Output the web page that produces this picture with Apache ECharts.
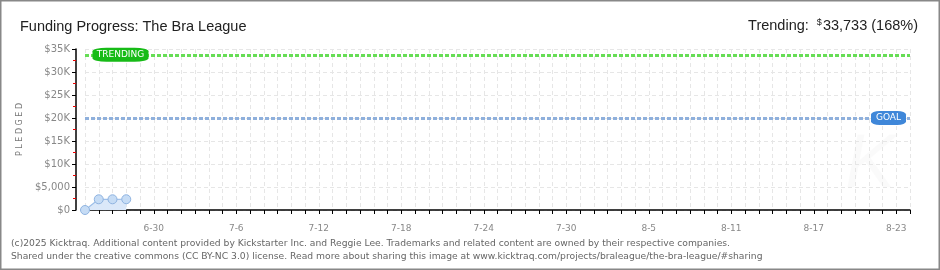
<!DOCTYPE html>
<html>
<head>
<meta charset="utf-8">
<script src="https://cdn.jsdelivr.net/npm/echarts@6/dist/echarts.min.js"></script>
<style>
html, body { margin: 0; padding: 0; background: #fff; }
#chart { width: 940px; height: 270px; }
</style>
</head>
<body>
<div id="chart"></div>
<script>
// days shown on the x axis (6-25 .. 8-24)
var startMonth = 6, startDay = 25, dayCount = 61;
var dates = [];
(function () {
	var m = startMonth, d = startDay;
	var monthLen = { 6: 30, 7: 31, 8: 31 };
	for (var i = 0; i < dayCount; i++) {
		dates.push(m + '-' + d);
		d++;
		if (d > monthLen[m]) { d = 1; m++; }
	}
})();

// pledged totals for the first days (6-25 .. 6-28)
var pledgedValues = [0, 2330, 2330, 2340];
var trendingValue = 33733;
var goalValue = 20000;
var trendingPct = 168;

function yLabel(v) {
	if (v == 0) return '$0';
	if (v < 10000) return '$' + v.toLocaleString('en-US');
	return '$' + (v / 1000) + 'K';
}

var chart = echarts.init(document.getElementById('chart'));
var option = {
	animation: false,
	title: [{
		text: 'Funding Progress: The Bra League',
		left: 15, top: 14,
		textStyle: { fontFamily: 'Liberation Sans', fontSize: 14.5, fontWeight: 'normal', color: '#222' }
	}, {
		text: '{a|Trending:  }{s|$}{a|' + trendingValue.toLocaleString('en-US') + ' (' + trendingPct + '%)}',
		right: 17, top: 13,
		textStyle: {
			fontWeight: 'normal',
			rich: {
				a: { fontFamily: 'Liberation Sans', fontSize: 14.5, fontWeight: 'normal', color: '#222' },
				s: { fontFamily: 'Liberation Sans', fontSize: 9, fontWeight: 'normal', color: '#222', verticalAlign: 'top', padding: [0, 1, 6, 0] }
			}
		}
	}],
	grid: { left: 85, right: 30, top: 49, bottom: 60 },
	xAxis: {
		type: 'category',
		data: dates,
		boundaryGap: false,
		offset: 10,
		axisLine: { lineStyle: { color: '#000', width: 1.5 } },
		axisTick: { interval: 0, length: 4, lineStyle: { color: '#000' } },
		axisLabel: {
			interval: function (i) { return (i - 5) % 6 === 0 && i >= 5; },
			margin: 4, fontFamily: 'DejaVu Sans', fontSize: 9, color: '#888'
		},
		splitLine: { show: true, interval: 0, lineStyle: { color: '#e6e6e6', type: [4, 3] } }
	},
	yAxis: {
		type: 'value',
		min: 0, max: 35000, interval: 5000,
		offset: 9,
		name: 'P L E D G E D',
		nameLocation: 'middle',
		nameGap: 49,
		nameTextStyle: { fontFamily: 'DejaVu Sans', fontSize: 8, color: '#777' },
		axisLine: { show: true, lineStyle: { color: '#000', width: 1.5 } },
		axisTick: { show: true, length: 4, lineStyle: { color: '#000' } },
		minorTick: { show: true, splitNumber: 2, length: 3, lineStyle: { color: '#e00' } },
		axisLabel: {
			margin: 6, fontFamily: 'DejaVu Sans', fontSize: 10, color: '#888',
			formatter: yLabel
		},
		splitLine: { show: true, lineStyle: { color: '#e6e6e6', type: [4, 3] } }
	},
	series: [{
		type: 'line',
		data: pledgedValues,
		symbol: 'circle',
		symbolSize: 9,
		showAllSymbol: true,
		lineStyle: { color: '#9dbfe9', width: 1.2 },
		itemStyle: { color: '#c6dcf5', borderColor: '#8fb3e0', borderWidth: 1 },
		areaStyle: { color: '#dbe8f9', opacity: 1 },
		markLine: {
			silent: true,
			symbol: 'none',
			label: { show: false },
			data: [
				{ yAxis: trendingValue, lineStyle: { color: '#66dd55', width: 3, type: [4, 2] } },
				{ yAxis: goalValue, lineStyle: { color: '#8fb0dc', width: 3, type: [4, 2] } }
			]
		},
		markPoint: {
			silent: true,
			data: [{
				coord: ['6-27', trendingValue],
				symbol: 'roundRect', symbolSize: [56, 14], symbolOffset: [8, 0],
				itemStyle: { color: '#17bb17' },
				label: { show: true, formatter: 'TRENDING', color: '#fff', fontFamily: 'DejaVu Sans', fontSize: 9 }
			}, {
				coord: ['8-22', goalValue],
				symbol: 'roundRect', symbolSize: [35, 14], symbolOffset: [6, 0],
				itemStyle: { color: '#3f87d9' },
				label: { show: true, formatter: 'GOAL', color: '#fff', fontFamily: 'DejaVu Sans', fontSize: 9 }
			}]
		}
	}],
	graphic: [{
		type: 'rect',
		shape: { x: 0.5, y: 0.5, width: 939, height: 269 },
		style: { fill: 'none', stroke: '#888', lineWidth: 2 },
		silent: true
	}, {
		type: 'text',
		left: 845, top: 128,
		style: { text: 'K', font: 'italic 76px Liberation Sans', fill: 'rgba(0,0,0,0.02)' },
		silent: true
	}, {
		type: 'text',
		left: 11, top: 237,
		style: {
			text: '(c)2025 Kicktraq. Additional content provided by Kickstarter Inc. and Reggie Lee. Trademarks and related content are owned by their respective companies.\nShared under the creative commons (CC BY-NC 3.0) license. Read more about sharing this image at www.kicktraq.com/projects/braleague/the-bra-league/#sharing',
			font: '9.2px DejaVu Sans', fill: '#666', lineHeight: 13
		},
		silent: true
	}]
};
chart.setOption(option);
</script>
</body>
</html>
